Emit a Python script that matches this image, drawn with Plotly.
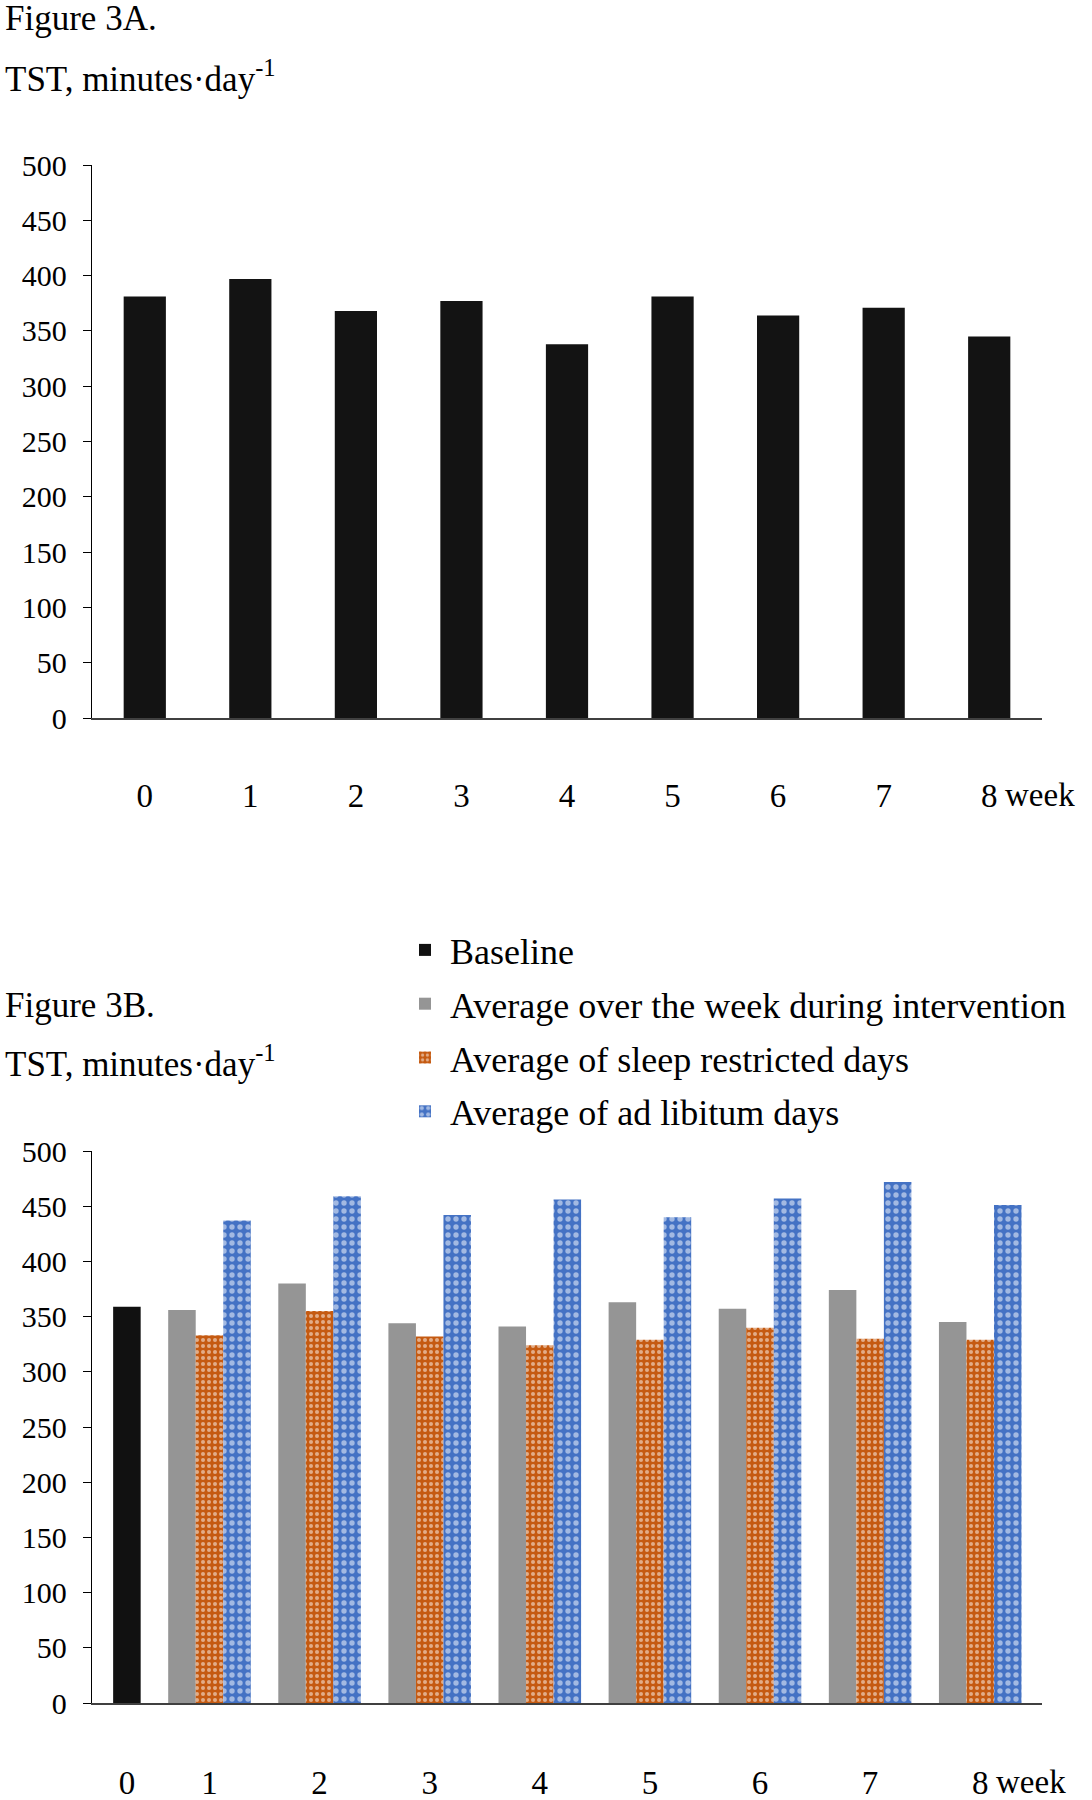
import plotly.graph_objects as go

# ---------------- data ----------------
weeks_a = [0, 1, 2, 3, 4, 5, 6, 7, 8]
tst_a = [381, 397, 368, 377, 338, 381, 364, 371, 345]

baseline_weeks = [0]
baseline_tst = [359]

weeks_b = [1, 2, 3, 4, 5, 6, 7, 8]
avg_week_tst = [356, 380, 344, 341, 363, 357, 374, 345]
restricted_tst = [333, 355, 332, 324, 329, 340, 330, 329]
adlib_tst = [437, 459, 442, 456, 440, 457, 472, 451]

week_labels = ["0", "1", "2", "3", "4", "5", "6", "7", "8"]
y_ticks = [0, 50, 100, 150, 200, 250, 300, 350, 400, 450, 500]

series_names = [
    "Baseline",
    "Average over the week during intervention",
    "Average of sleep restricted days",
    "Average of ad libitum days",
]

# ---------------- layout helpers ----------------
W, H = 1092, 1800
ML = 92
PW = 950
MR = W - ML - PW
FONT = "Liberation Serif"


def yf(py):
    """pixel y -> paper fraction"""
    return 1 - py / H


def xf(px):
    """pixel x -> paper fraction"""
    return (px - ML) / PW


fig = go.Figure()

# Figure 3A bars
fig.add_trace(go.Bar(
    x=weeks_a, y=tst_a, width=0.4,
    marker=dict(color="#131313", line=dict(width=0)),
    showlegend=False, xaxis="x", yaxis="y",
))

# Figure 3B bars (overlay with slot offsets)
slot = 0.25
base_offset = 0.5 * slot
fig.add_trace(go.Bar(
    x=baseline_weeks, y=baseline_tst, name=series_names[0],
    width=slot, offset=base_offset,
    marker=dict(color="#111111", line=dict(width=0)),
    xaxis="x2", yaxis="y2", legendgroup="g1",
))
fig.add_trace(go.Bar(
    x=weeks_b, y=avg_week_tst, name=series_names[1],
    width=slot, offset=-1.5 * slot,
    marker=dict(color="#959595", line=dict(width=0)),
    xaxis="x2", yaxis="y2", legendgroup="g2",
))
fig.add_trace(go.Bar(
    x=weeks_b, y=restricted_tst, name=series_names[2],
    width=slot, offset=-0.5 * slot,
    marker=dict(color="#C55A11", line=dict(width=0),
                pattern=dict(shape=".", fgcolor="white", bgcolor="#C55A11",
                             size=6, solidity=0.35)),
    xaxis="x2", yaxis="y2", legendgroup="g3",
))
fig.add_trace(go.Bar(
    x=weeks_b, y=adlib_tst, name=series_names[3],
    width=slot, offset=0.5 * slot,
    marker=dict(color="#4472C4", line=dict(width=0),
                pattern=dict(shape=".", fgcolor="white", bgcolor="#4472C4",
                             size=8, solidity=0.35)),
    xaxis="x2", yaxis="y2", legendgroup="g4",
))

# week-0 label of Figure 3B sits under the baseline bar
tickvals_b = [w + (base_offset + slot / 2 if w == 0 else 0) for w in weeks_a]

tickfont_y = dict(family=FONT, size=30, color="black")
tickfont_x = dict(family=FONT, size=33, color="black")

yaxis_common = dict(
    range=[0, 500], tickvals=y_ticks, ticks="outside", ticklen=8,
    tickwidth=1.3, tickcolor="black", showline=True, linecolor="black",
    linewidth=1.3, showgrid=False, zeroline=False, tickfont=tickfont_y,
    ticklabelstandoff=10, fixedrange=True, automargin=False,
)
xaxis_common = dict(
    ticktext=week_labels, ticks="", showline=True,
    linecolor="#404040", linewidth=1.5, showgrid=False, zeroline=False,
    tickfont=tickfont_x, fixedrange=True, automargin=False,
)

fig.update_layout(
    width=W, height=H,
    margin=dict(l=ML, r=MR, t=0, b=0, autoexpand=False),
    paper_bgcolor="white", plot_bgcolor="white",
    barmode="overlay",
    font=dict(family=FONT, color="black"),
    xaxis=dict(domain=[0, 1], anchor="y", range=[-0.5, 8.5], tickvals=weeks_a,
               ticklabelstandoff=48, **xaxis_common),
    yaxis=dict(domain=[yf(718), yf(165)], anchor="x", **yaxis_common),
    xaxis2=dict(domain=[0, 1], anchor="y2", range=[-0.067, 8.561],
                tickvals=tickvals_b, ticklabelstandoff=50, **xaxis_common),
    yaxis2=dict(domain=[yf(1703), yf(1151)], anchor="x2", **yaxis_common),
    legend=dict(
        x=xf(400), y=yf(920), xanchor="left", yanchor="top",
        orientation="v", font=dict(family=FONT, size=36, color="black"),
        tracegroupgap=4, bgcolor="rgba(0,0,0,0)", itemwidth=40,
    ),
    annotations=[
        dict(text="Figure 3A.", xref="paper", yref="paper", x=xf(3), y=yf(19),
             xanchor="left", yanchor="middle", showarrow=False,
             font=dict(family=FONT, size=35)),
        dict(text="TST, minutes·day<sup>-1</sup>", xref="paper", yref="paper",
             x=xf(3), y=yf(76), xanchor="left", yanchor="middle", showarrow=False,
             font=dict(family=FONT, size=35)),
        dict(text="week", xref="x", yref="paper", x=8, y=yf(795),
             xanchor="left", yanchor="middle", xshift=14, showarrow=False,
             font=dict(family=FONT, size=33)),
        dict(text="Figure 3B.", xref="paper", yref="paper", x=xf(3), y=yf(1005),
             xanchor="left", yanchor="middle", showarrow=False,
             font=dict(family=FONT, size=35)),
        dict(text="TST, minutes·day<sup>-1</sup>", xref="paper", yref="paper",
             x=xf(3), y=yf(1061), xanchor="left", yanchor="middle", showarrow=False,
             font=dict(family=FONT, size=35)),
        dict(text="week", xref="x2", yref="paper", x=8, y=yf(1782),
             xanchor="left", yanchor="middle", xshift=14, showarrow=False,
             font=dict(family=FONT, size=33)),
    ],
)

fig.write_html(
    "out.html",
    config={"displayModeBar": False},
    post_script="document.body.style.margin='0';document.body.style.overflow='hidden';",
)
